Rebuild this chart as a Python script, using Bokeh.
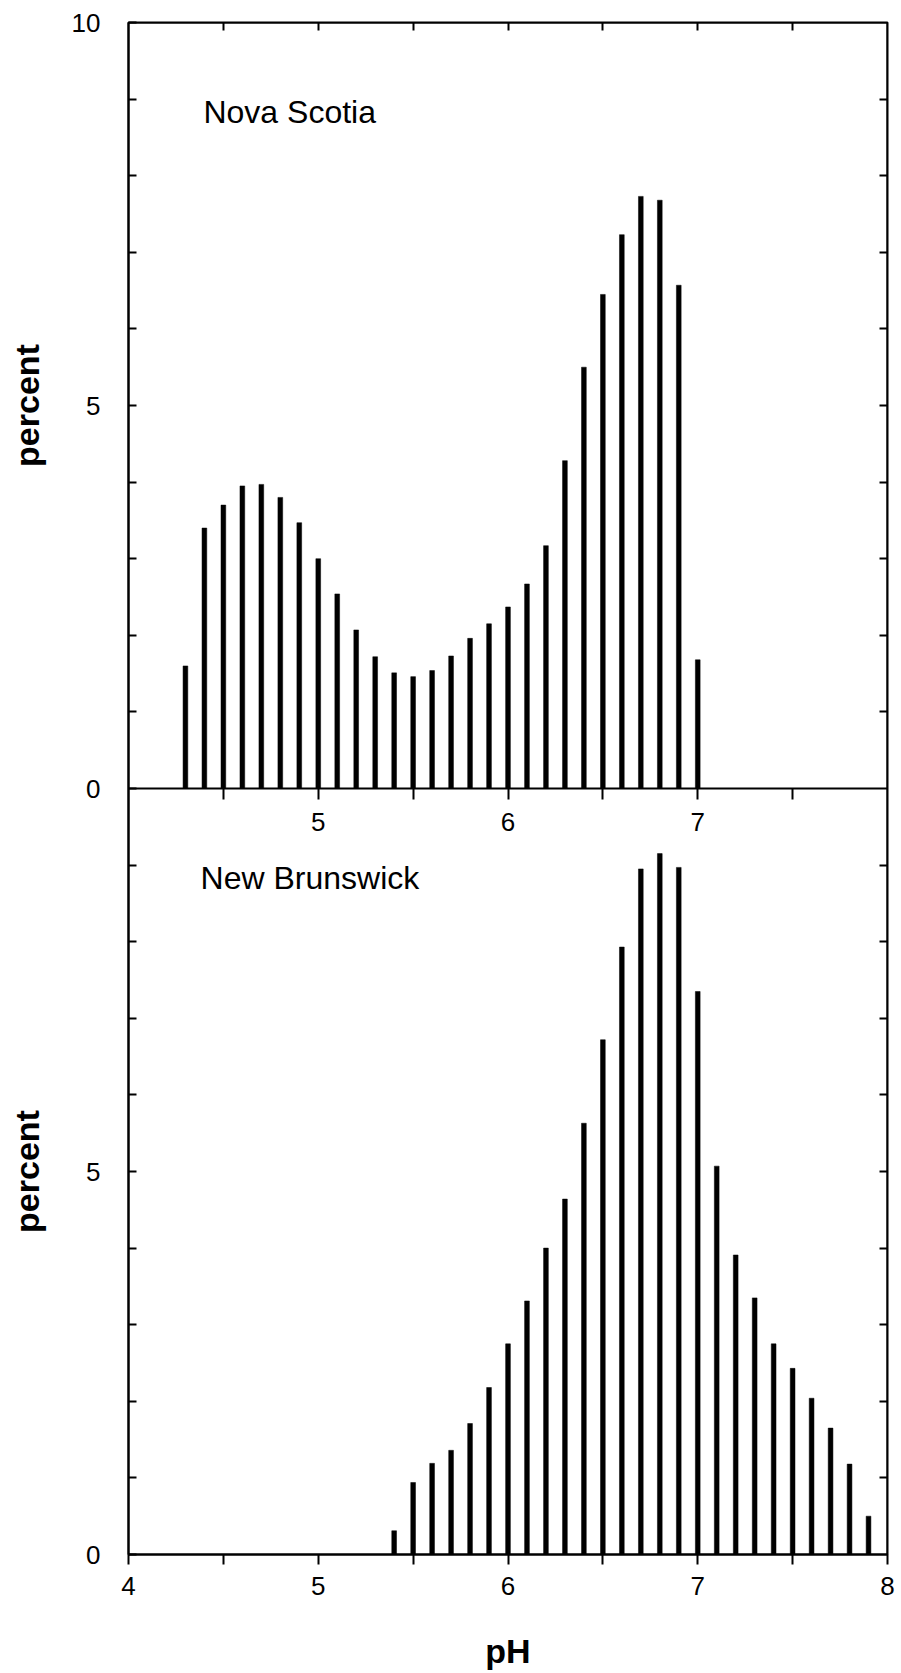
import math
from bokeh.plotting import figure
from bokeh.layouts import row
from bokeh.models import Range1d, LinearAxis, FixedTicker, Label
from bokeh.embed import file_html
from bokeh.resources import INLINE

# ---- data ----
ph_nova_scotia = [4.3, 4.4, 4.5, 4.6, 4.7, 4.8, 4.9, 5.0, 5.1, 5.2, 5.3, 5.4, 5.5, 5.6,
                  5.7, 5.8, 5.9, 6.0, 6.1, 6.2, 6.3, 6.4, 6.5, 6.6, 6.7, 6.8, 6.9, 7.0]
pct_nova_scotia = [1.60, 3.40, 3.70, 3.95, 3.97, 3.80, 3.47, 3.00, 2.54, 2.07, 1.72, 1.51, 1.46, 1.54,
                   1.73, 1.96, 2.15, 2.37, 2.67, 3.17, 4.28, 5.50, 6.45, 7.23, 7.73, 7.68, 6.57, 1.68]

ph_new_brunswick = [5.4, 5.5, 5.6, 5.7, 5.8, 5.9, 6.0, 6.1, 6.2, 6.3, 6.4, 6.5, 6.6,
                    6.7, 6.8, 6.9, 7.0, 7.1, 7.2, 7.3, 7.4, 7.5, 7.6, 7.7, 7.8, 7.9]
pct_new_brunswick = [0.31, 0.94, 1.19, 1.36, 1.71, 2.18, 2.75, 3.31, 4.00, 4.64, 5.63, 6.72, 7.93,
                     8.95, 9.15, 8.97, 7.35, 5.07, 3.91, 3.35, 2.75, 2.43, 2.04, 1.65, 1.18, 0.50]

panel_names = ["Nova Scotia", "New Brunswick"]
x_label_ticks = [4, 5, 6, 7, 8]
x_mid_label_ticks = [5, 6, 7]
x_half_ticks = [4.5, 5.5, 6.5, 7.5]
# left axis: lower panel occupies 0..10, upper panel 10..20 of the stacked scale
y_tick_values = [0, 5, 10, 15, 20]
y_tick_labels = ["0", "5", "0", "5", "10"]
y_unit_ticks = [1, 2, 3, 4, 6, 7, 8, 9, 11, 12, 13, 14, 16, 17, 18, 19]
y_label = "percent"
x_label = "pH"

FONT = "Liberation Sans"
TICK_FS = "26px"
TOP, BOTTOM, FRAME_H = 22, 117, 1532
SIDE_W = 60

p = figure(frame_width=759, frame_height=FRAME_H,
           x_range=Range1d(4, 8), y_range=Range1d(0, 20),
           output_backend="svg", toolbar_location=None,
           min_border_left=128 - SIDE_W, min_border_right=8,
           min_border_top=TOP, min_border_bottom=BOTTOM)
p.extra_y_ranges = {"top": Range1d(-10, 10)}
p.xgrid.visible = False
p.ygrid.visible = False
p.outline_line_color = "black"
p.outline_line_width = 2
p.background_fill_color = "white"
p.border_fill_color = "white"


def style(ax, tin, tout, labels=True, line=True):
    ax.major_tick_in = tin
    ax.major_tick_out = tout
    ax.minor_tick_in = tin
    ax.minor_tick_out = tout
    ax.major_tick_line_width = 2
    ax.minor_tick_line_width = 2
    ax.major_tick_line_color = "black"
    ax.minor_tick_line_color = "black"
    ax.axis_line_width = 2
    ax.axis_line_color = "black" if line else None
    ax.major_label_text_font = FONT
    ax.major_label_text_font_size = TICK_FS
    ax.major_label_text_color = "black" if labels else None


# bottom x axis
xb = p.xaxis[0]
xb.ticker = FixedTicker(ticks=x_label_ticks, minor_ticks=x_half_ticks)
style(xb, 0, 10)
xb.major_label_standoff = 12
xb.axis_label = x_label
xb.axis_label_text_font = FONT
xb.axis_label_text_font_style = "bold"
xb.axis_label_text_font_size = "34px"
xb.axis_label_text_color = "black"
xb.axis_label_standoff = 34

# left axis (both panels)
yl = p.yaxis[0]
yl.ticker = FixedTicker(ticks=y_tick_values, minor_ticks=y_unit_ticks)
yl.major_label_overrides = dict(zip(y_tick_values, y_tick_labels))
style(yl, 8, 0)
yl.major_label_standoff = 28

# top frame ticks
xt = LinearAxis(fixed_location=20,
                ticker=FixedTicker(ticks=[], minor_ticks=x_mid_label_ticks + x_half_ticks))
style(xt, 8, 0, labels=False)
p.add_layout(xt, "above")

# middle x axis (baseline of the upper panel)
xm = LinearAxis(fixed_location=10,
                ticker=FixedTicker(ticks=x_mid_label_ticks, minor_ticks=x_half_ticks))
style(xm, 0, 11)
xm.major_label_standoff = 13
p.add_layout(xm, "below")

# right frame ticks
yr = LinearAxis(fixed_location=8,
                ticker=FixedTicker(ticks=[], minor_ticks=y_unit_ticks + [5, 15]))
style(yr, 8, 0, labels=False)
p.add_layout(yr, "right")

# bars
p.vbar(x=ph_nova_scotia, top=pct_nova_scotia, width=0.025, y_range_name="top",
       fill_color="black", line_color="black", line_width=0.5)
p.vbar(x=ph_new_brunswick, top=pct_new_brunswick, width=0.025,
       fill_color="black", line_color="black", line_width=0.5)

# panel names
p.add_layout(Label(x=4.395, y=8.83, y_range_name="top", text=panel_names[0],
                   text_font=FONT, text_font_size="32px", text_color="black",
                   text_baseline="alphabetic", text_align="left"))
p.add_layout(Label(x=4.38, y=8.83, text=panel_names[1],
                   text_font=FONT, text_font_size="32px", text_color="black",
                   text_baseline="alphabetic", text_align="left"))

# side strip carrying the two "percent" titles
side = figure(frame_width=SIDE_W, frame_height=FRAME_H,
              x_range=Range1d(0, SIDE_W), y_range=p.y_range,
              output_backend="svg", toolbar_location=None,
              x_axis_type=None, y_axis_type=None,
              min_border_left=0, min_border_right=0,
              min_border_top=TOP, min_border_bottom=BOTTOM)
side.outline_line_color = None
side.xgrid.visible = False
side.ygrid.visible = False
side.background_fill_color = "white"
side.border_fill_color = "white"
for yc in (5, 15):
    side.add_layout(Label(x=26, y=yc, text=y_label, angle=math.pi / 2,
                          text_font=FONT, text_font_size="34px", text_font_style="bold",
                          text_color="black", text_align="center", text_baseline="middle"))

layout = row(side, p, spacing=0)
open("out.html", "w").write(file_html(layout, INLINE))
